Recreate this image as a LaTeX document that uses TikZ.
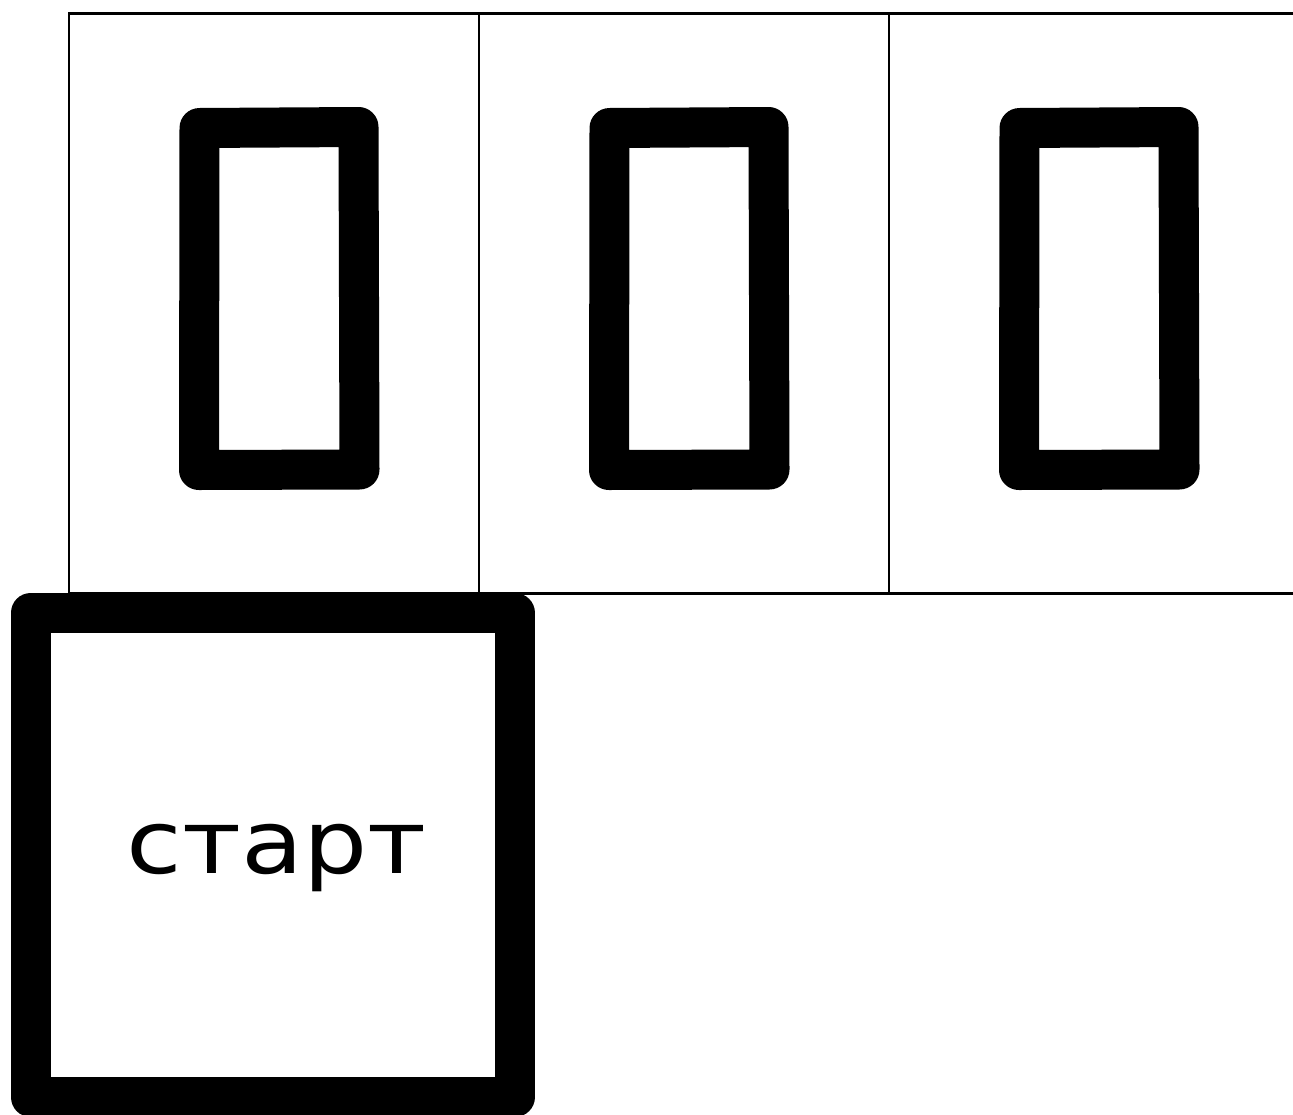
\documentclass[tikz,border=0pt]{standalone}
\usepackage{fontspec}
\newfontfamily\labelfont[FakeStretch=1.15]{DejaVu Sans}
\begin{document}
\begin{tikzpicture}[x=1pt,y=-1pt,
  gridline/.style={draw=black,line width=2.5pt},
  thickbox/.style={draw=black,line width=40pt,line join=round},
  label/.style={font=\labelfont\fontsize{88}{100}\selectfont,inner sep=0pt}]
\useasboundingbox[fill=white] (0,0) rectangle (1293,1114);
% grid of three cells (the third cut at the right edge)
\draw[gridline] (1300,13.5) -- (69,13.5) -- (69,593.5) -- (1300,593.5);
\draw[gridline] (479,13.5) -- (479,593.5);
\draw[gridline] (889,13.5) -- (889,593.5);
% three slots
\foreach \dx in {0,410,820}{
  \draw[thickbox] (199.5+\dx,128) -- (358.5+\dx,127) -- (359.5+\dx,469.5) -- (199+\dx,470) -- cycle;
}
% start box
\draw[thickbox,fill=white] (30.5,613) -- (515,613) -- (515,1097) -- (30.5,1097) -- cycle;
\node[label,anchor=base] (start) at (276.5,873) {старт};
\end{tikzpicture}
\end{document}
